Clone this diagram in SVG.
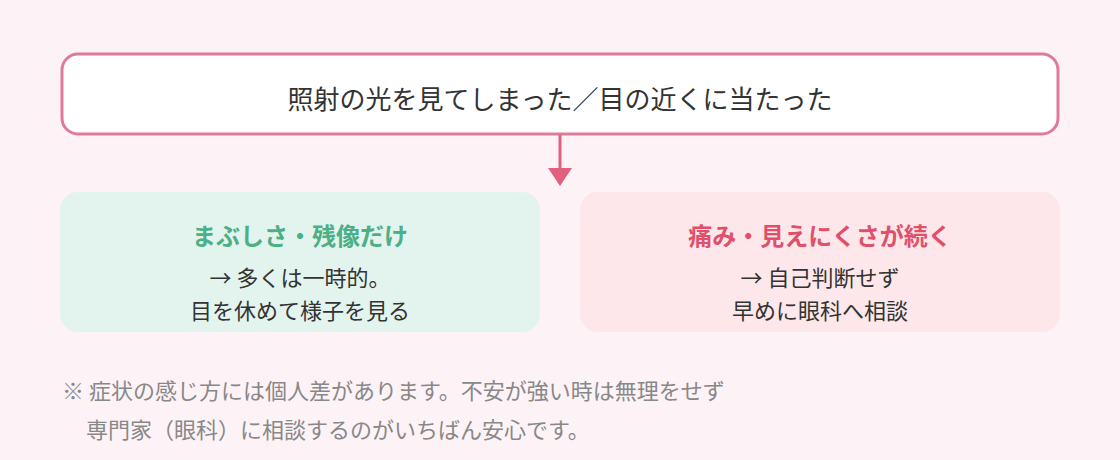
<svg xmlns="http://www.w3.org/2000/svg" width="1120" height="460" viewBox="0 0 1120 460">
<style>
text{font-family:"Noto Sans CJK JP","Noto Sans",sans-serif}
.b{font-size:22px;fill:#333;text-anchor:middle}
.t{font-size:24px;font-weight:bold;text-anchor:middle}
.n{font-size:22px;fill:#888}
</style>
<rect width="1120" height="460" fill="#fdf2f6"/>
<g id="top"><rect x="62" y="54" width="996" height="80" rx="16" fill="#fff" stroke="#e07a9a" stroke-width="3"/>
<text class="b" x="560" y="109" style="font-size:26px">照射の光を見てしまった／目の近くに当たった</text></g>
<g id="connectors"><line x1="560" y1="135" x2="560" y2="170" stroke="#e0607e" stroke-width="3"/>
<polygon points="548,168 572,168 560,186" fill="#e0607e"/></g>
<g id="left"><rect x="60" y="192" width="480" height="140" rx="18" fill="#e3f4ee"/>
<text class="t" x="300" y="245" fill="#4caf85">まぶしさ・残像だけ</text>
<text class="b" x="300" y="286">→ 多くは一時的。</text>
<text class="b" x="300" y="319">目を休めて様子を見る</text></g>
<g id="right"><rect x="580" y="192" width="480" height="140" rx="18" fill="#fde7ea"/>
<text class="t" x="820" y="245" fill="#e0506a">痛み・見えにくさが続く</text>
<text class="b" x="820" y="286">→ 自己判断せず</text>
<text class="b" x="820" y="319">早めに眼科へ相談</text></g>
<g id="note"><text class="n" x="62" y="399">※ 症状の感じ方には個人差があります。不安が強い時は無理をせず</text>
<text class="n" x="86" y="438">専門家（眼科）に相談するのがいちばん安心です。</text></g>
</svg>
